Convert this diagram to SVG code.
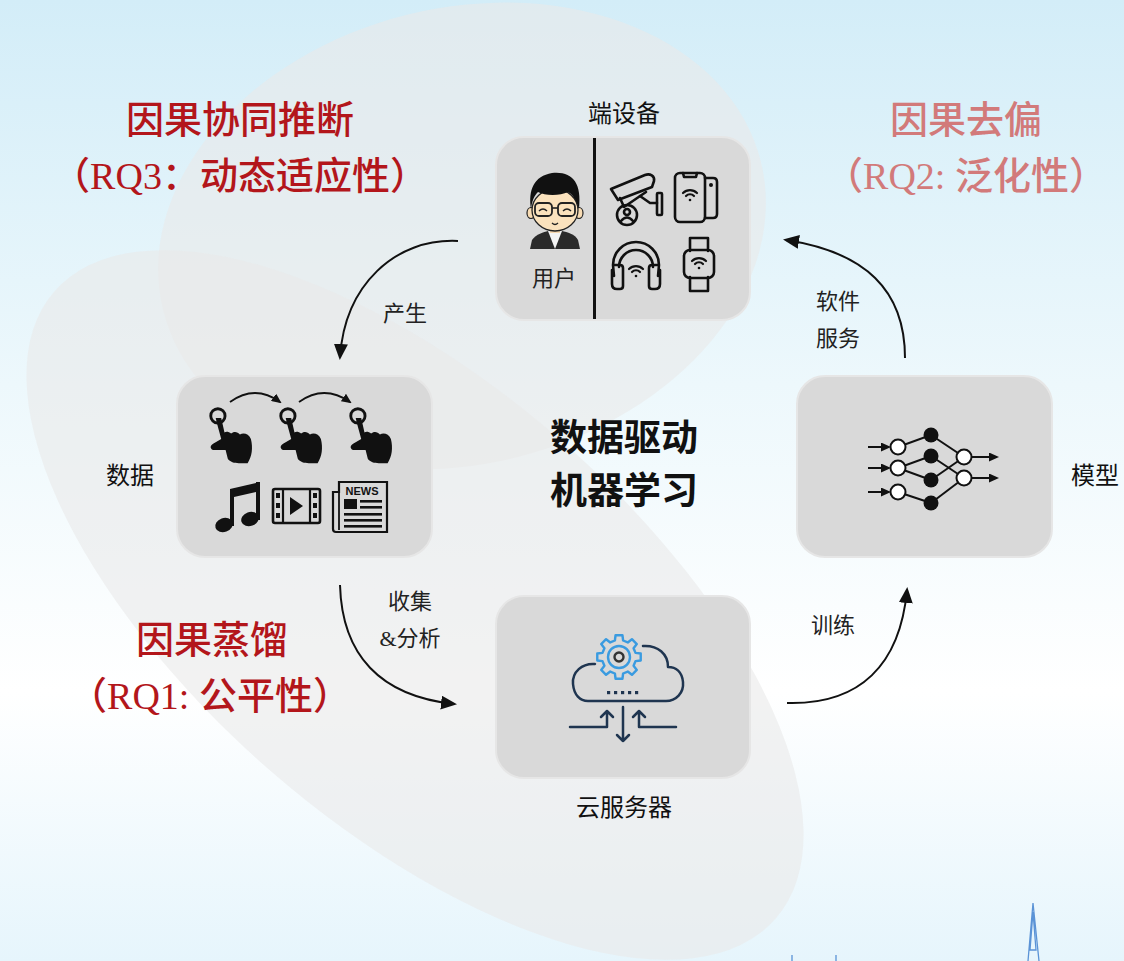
<svg xmlns="http://www.w3.org/2000/svg" width="1124" height="961" viewBox="0 0 1124 961">
  <defs>
    <linearGradient id="bg" x1="0" y1="0" x2="0" y2="1">
      <stop offset="0" stop-color="#d3edf8"/>
      <stop offset="0.4" stop-color="#edf8fc"/>
      <stop offset="0.72" stop-color="#ffffff"/>
      <stop offset="1" stop-color="#e6f5fc"/>
    </linearGradient>
    <marker id="arr" markerUnits="userSpaceOnUse" markerWidth="16" markerHeight="14" refX="13" refY="7" orient="auto">
      <path d="M0,0 L16,7 L0,14 Z" fill="#111"/>
    </marker>
    <marker id="arrS" markerUnits="userSpaceOnUse" markerWidth="10" markerHeight="9" refX="8" refY="4.5" orient="auto">
      <path d="M0,0 L10,4.5 L0,9 Z" fill="#111"/>
    </marker>
    <!-- wifi glyph, centred on its dot -->
    <g id="wifi" fill="none" stroke="#111" stroke-width="2.2" stroke-linecap="round">
      <path d="M-7,-3 A10,10 0 0 1 7,-3"/>
      <path d="M-4,0 A5.5,5.5 0 0 1 4,0"/>
      <circle cx="0" cy="4" r="1.3" fill="#111" stroke="none"/>
    </g>
    <!-- tapping hand, origin at fingertip ring -->
    <g id="hand">
      <circle cx="-1" cy="-1" r="6.5" fill="none" stroke="#111" stroke-width="2.6"/>
      <path d="M-3,1 C-2,6 0,12 2,20 L-5,24 C-9,26 -8,30 -4,30 L6,30 L8,38 C10,41 14,42 18,42 L26,42 C30,36 31,28 29,20 C27,15 22,14 19,16 C17,13 13,13 11,15 C9,13 6,13 5,14 L2,1 Z" fill="#111"/>
    </g>
    <style>
      .box { fill: #d9d9d9; stroke: #e6e6e6; stroke-width: 2; }
      .lbl { font-family: "Liberation Serif", "Noto Sans CJK SC", serif; font-size: 24px; fill: #111; text-anchor: middle; }
      .lbl2 { font-family: "Liberation Serif", "Noto Sans CJK SC", serif; font-size: 22px; fill: #222; text-anchor: middle; }
      .title { font-family: "Liberation Serif", "Noto Sans CJK SC", serif; font-size: 38px; text-anchor: middle; font-weight: 500; }
      .dark { fill: #b3161b; }
      .pale { fill: #d27a7a; }
      .center { font-family: "Noto Sans CJK SC", sans-serif; font-size: 37px; font-weight: bold; fill: #111; text-anchor: middle; }
      .conn { fill: none; stroke: #111; stroke-width: 2; }
      .ic { fill: none; stroke: #111; stroke-width: 2.6; stroke-linejoin: round; stroke-linecap: round; }
    </style>
  </defs>

  <!-- backdrop -->
  <rect width="1124" height="961" fill="url(#bg)"/>
  <g id="backdrop-shapes">
    <ellipse cx="462" cy="236" rx="308" ry="228" transform="rotate(-14 462 236)" fill="#e9e9e9" fill-opacity="0.6"/>
    <ellipse cx="415" cy="605" rx="478" ry="220" transform="rotate(41 415 605)" fill="#e9e9e9" fill-opacity="0.6"/>
    <!-- skyline spire -->
    <path d="M1033,903 L1028,961 M1033,903 L1039,961 M1033,912 L1030,950 L1036,950 Z" fill="none" stroke="#5b93d6" stroke-width="1.3"/>
    <path d="M792,955 L792,961 M836,955 L836,961" stroke="#5b93d6" stroke-width="1.3"/>
  </g>

  <!-- titles -->
  <g id="titles">
    <text class="title dark" x="240" y="133">因果协同推断</text>
    <text class="title dark" x="240" y="189" font-size="35">（RQ3：动态适应性）</text>
    <text class="title pale" x="966" y="133">因果去偏</text>
    <text class="title pale" x="966" y="189" font-size="35">（RQ2: 泛化性）</text>
    <text class="title dark" x="212" y="653">因果蒸馏</text>
    <text class="title dark" x="210" y="709" font-size="35">（RQ1: 公平性）</text>
    <text class="center" x="624" y="451">数据驱动</text>
    <text class="center" x="624" y="504">机器学习</text>
  </g>

  <!-- connectors -->
  <g id="connectors">
    <path class="conn" d="M458,241 C395,238 345,285 340,357" marker-end="url(#arr)"/>
    <path class="conn" d="M340,585 C342,655 380,696 454,704" marker-end="url(#arr)"/>
    <path class="conn" d="M787,703 C860,705 900,665 907,590" marker-end="url(#arr)"/>
    <path class="conn" d="M905,358 C905,290 865,252 786,240" marker-end="url(#arr)"/>
    <text class="lbl2" x="405" y="321">产生</text>
    <text class="lbl2" x="410" y="609">收集</text>
    <text class="lbl2" x="410" y="646">&amp;分析</text>
    <text class="lbl2" x="833" y="633">训练</text>
    <text class="lbl2" x="838" y="309">软件</text>
    <text class="lbl2" x="838" y="346">服务</text>
  </g>

  <!-- end devices -->
  <g id="node-devices">
    <text class="lbl" x="624" y="122">端设备</text>
    <rect class="box" x="496" y="137" width="254" height="183" rx="28"/>
    <line x1="594.5" y1="138" x2="594.5" y2="319" stroke="#111" stroke-width="3"/>
    <!-- user avatar -->
    <g id="avatar">
      <path d="M530,249 L532,240 C536,234 544,232 548,231 L562,231 C567,232 575,234 578,240 L580,249 Z" fill="#2a2a2a"/>
      <path d="M548,231 L555,249 L562,231 Z" fill="#f4f4f4"/>
      <rect x="550" y="226" width="10" height="7" fill="#f6d8b0"/>
      <ellipse cx="531" cy="213" rx="4" ry="5.5" fill="#f8dcb4" stroke="#222" stroke-width="1.2"/>
      <ellipse cx="579" cy="213" rx="4" ry="5.5" fill="#f8dcb4" stroke="#222" stroke-width="1.2"/>
      <ellipse cx="555" cy="210" rx="23" ry="21" fill="#fbe2bd" stroke="#222" stroke-width="1.3"/>
      <path d="M531,209 C528,190 534,176 552,173 C572,171 582,182 579,209 C576,199 572,194 568,192 C560,196 545,196 538,192 C534,196 532,201 531,209 Z" fill="#111"/>
      <rect x="535" y="203" width="17" height="13" rx="4" fill="none" stroke="#222" stroke-width="1.8"/>
      <rect x="558" y="203" width="17" height="13" rx="4" fill="none" stroke="#222" stroke-width="1.8"/>
      <line x1="552" y1="208" x2="558" y2="208" stroke="#222" stroke-width="1.6"/>
      <path d="M539,211 Q543,207 547,211 M563,211 Q567,207 571,211" fill="none" stroke="#222" stroke-width="1.4"/>
      <path d="M552,223 Q555,226 558,223" fill="none" stroke="#222" stroke-width="1.3"/>
    </g>
    <text class="lbl2" x="554" y="286">用户</text>
    <!-- cctv camera -->
    <g id="cam" class="ic">
      <path d="M611,189 L645,175 C650,173 655,176 654,181 L652,187 L618,200 Z"/>
      <path d="M620,198 L624,207 L646,192"/>
      <path d="M640,196 L650,203 L657,203"/>
      <rect x="657" y="193" width="5" height="22" rx="1"/>
      <circle cx="627" cy="215" r="10"/>
      <circle cx="627" cy="212" r="3"/>
      <path d="M621,221 Q627,214 633,221"/>
    </g>
    <!-- phone -->
    <g id="phone" class="ic">
      <rect x="675" y="173" width="30" height="49" rx="5"/>
      <path d="M683,173 L684,177 L696,177 L697,173"/>
      <path d="M705,178 L713,178 Q717,178 717,182 L717,214 Q717,218 713,218 L705,218"/>
      <circle cx="711" cy="185" r="2" fill="#111" stroke="none"/>
      <use href="#wifi" x="690" y="196"/>
    </g>
    <!-- headphones -->
    <g id="headphones" class="ic">
      <path d="M614,276 L613,265 A23,23 0 0 1 659,265 L658,276"/>
      <path d="M619,267 A17,17 0 0 1 653,267"/>
      <path d="M614,265 L620,265 Q623,265 623,268 L623,286 Q623,289 620,289 L617,289 Q612,289 612,284 L612,270"/>
      <path d="M658,265 L652,265 Q649,265 649,268 L649,286 Q649,289 652,289 L655,289 Q660,289 660,284 L660,270"/>
      <use href="#wifi" x="636" y="272"/>
    </g>
    <!-- smart watch -->
    <g id="watch" class="ic">
      <path d="M690,251 L690,238 L708,238 L708,251"/>
      <path d="M690,277 L690,291 L708,291 L708,277"/>
      <rect x="684" y="250" width="30" height="28" rx="6"/>
      <use href="#wifi" x="699" y="264"/>
    </g>
  </g>

  <!-- data -->
  <g id="node-data">
    <rect class="box" x="177" y="376" width="255" height="181" rx="28"/>
    <text class="lbl" x="130" y="484">数据</text>
    <use href="#hand" transform="translate(219 417) scale(1.1)"/>
    <use href="#hand" transform="translate(289 417) scale(1.1)"/>
    <use href="#hand" transform="translate(359 417) scale(1.1)"/>
    <path d="M230,402 Q255,384 280,402" fill="none" stroke="#111" stroke-width="1.8" marker-end="url(#arrS)"/>
    <path d="M299,402 Q324,384 350,402" fill="none" stroke="#111" stroke-width="1.8" marker-end="url(#arrS)"/>
    <!-- music note -->
    <g id="note" fill="#111">
      <path d="M230,489 L260,482 L260,491 L234,497 Z"/>
      <rect x="230" y="489" width="4" height="37"/>
      <rect x="256" y="482" width="4" height="38"/>
      <ellipse cx="224" cy="525" rx="9" ry="7" transform="rotate(-20 224 525)"/>
      <ellipse cx="250" cy="519" rx="9" ry="7" transform="rotate(-20 250 519)"/>
    </g>
    <!-- film strip -->
    <g id="film">
      <rect x="273" y="489" width="47" height="34" rx="2" fill="none" stroke="#111" stroke-width="2.6"/>
      <line x1="283" y1="489" x2="283" y2="523" stroke="#111" stroke-width="2.2"/>
      <line x1="310" y1="489" x2="310" y2="523" stroke="#111" stroke-width="2.2"/>
      <g fill="#111">
        <rect x="276" y="493" width="4" height="5"/><rect x="276" y="503" width="4" height="5"/><rect x="276" y="513" width="4" height="5"/>
        <rect x="313" y="493" width="4" height="5"/><rect x="313" y="503" width="4" height="5"/><rect x="313" y="513" width="4" height="5"/>
        <path d="M290,497 L303,506 L290,515 Z"/>
      </g>
    </g>
    <!-- newspaper -->
    <g id="news">
      <path d="M339,492 L333,492 L333,529 Q333,532 336,532 L387,532 L387,482 L339,482 Z" fill="none" stroke="#111" stroke-width="2.2"/>
      <line x1="339" y1="482" x2="339" y2="530" stroke="#111" stroke-width="1.8"/>
      <text x="362" y="495" font-family="Liberation Sans, sans-serif" font-size="11" font-weight="bold" fill="#111" text-anchor="middle">NEWS</text>
      <g fill="#111">
        <rect x="344" y="499" width="13" height="10"/>
        <rect x="360" y="500" width="22" height="2.6"/>
        <rect x="360" y="506" width="22" height="2.6"/>
        <rect x="344" y="513" width="38" height="2.6"/>
        <rect x="344" y="519" width="38" height="2.6"/>
        <rect x="344" y="525" width="38" height="2.6"/>
      </g>
    </g>
  </g>

  <!-- cloud server -->
  <g id="node-cloud">
    <rect class="box" x="496" y="596" width="254" height="182" rx="28"/>
    <text class="lbl" x="624" y="816">云服务器</text>
    <g transform="translate(619 657)" fill="none" stroke="#3a9be0" stroke-width="2.4" stroke-linejoin="round">
      <polygon points="16.5,-4.11 21.73,-3.44 21.73,3.44 16.5,4.11 14.57,8.76 17.8,12.93 12.93,17.8 8.76,14.57 4.11,16.5 3.44,21.73 -3.44,21.73 -4.11,16.5 -8.76,14.57 -12.93,17.8 -17.8,12.93 -14.57,8.76 -16.5,4.11 -21.73,3.44 -21.73,-3.44 -16.5,-4.11 -14.57,-8.76 -17.8,-12.93 -12.93,-17.8 -8.76,-14.57 -4.11,-16.5 -3.44,-21.73 3.44,-21.73 4.11,-16.5 8.76,-14.57 12.93,-17.8 17.8,-12.93 14.57,-8.76"/>
      <circle r="11"/>
      <circle r="4.5" stroke="#333" stroke-width="2.4"/>
    </g>
    <g fill="none" stroke="#1f3550" stroke-width="2.5" stroke-linecap="round" stroke-linejoin="round">
      <path d="M595,664 C582,663 572,672 573,684 C574,695 580,701 588,701 L666,701 C676,701 684,693 683,682 C682,672 676,667 668,667 C668,654 658,645 643,646"/>
      <path d="M570,727 L607,727 L607,711 M601,717 L607,711 L613,717"/>
      <path d="M676,727 L639,727 L639,711 M633,717 L639,711 L645,717"/>
      <path d="M623,707 L623,741 M617,735 L623,741 L629,735"/>
    </g>
    <g fill="#1f3550">
      <rect x="607" y="691" width="3.2" height="3.2"/><rect x="614" y="691" width="3.2" height="3.2"/><rect x="621" y="691" width="3.2" height="3.2"/><rect x="628" y="691" width="3.2" height="3.2"/><rect x="635" y="691" width="3.2" height="3.2"/>
    </g>
  </g>

  <!-- model -->
  <g id="node-model">
    <rect class="box" x="797" y="376" width="255" height="181" rx="28"/>
    <text class="lbl" x="1095" y="484">模型</text>
    <g stroke="#111" stroke-width="2">
      <line x1="898" y1="447" x2="931" y2="435"/>
      <line x1="898" y1="468" x2="931" y2="456"/>
      <line x1="898" y1="468" x2="931" y2="480"/>
      <line x1="898" y1="492" x2="931" y2="503"/>
      <line x1="931" y1="435" x2="964" y2="457"/>
      <line x1="931" y1="456" x2="964" y2="478"/>
      <line x1="931" y1="480" x2="964" y2="457"/>
      <line x1="931" y1="503" x2="964" y2="478"/>
      <line x1="868" y1="447" x2="889" y2="447" marker-end="url(#arrS)"/>
      <line x1="868" y1="468" x2="889" y2="468" marker-end="url(#arrS)"/>
      <line x1="868" y1="492" x2="889" y2="492" marker-end="url(#arrS)"/>
      <line x1="972" y1="457" x2="997" y2="457" marker-end="url(#arrS)"/>
      <line x1="972" y1="478" x2="997" y2="478" marker-end="url(#arrS)"/>
    </g>
    <g fill="#fff" stroke="#111" stroke-width="2">
      <circle cx="898" cy="447" r="7.5"/><circle cx="898" cy="468" r="7.5"/><circle cx="898" cy="492" r="7.5"/>
      <circle cx="964" cy="457" r="7.5"/><circle cx="964" cy="478" r="7.5"/>
    </g>
    <g fill="#111">
      <circle cx="931" cy="435" r="7.5"/><circle cx="931" cy="456" r="7.5"/><circle cx="931" cy="480" r="7.5"/><circle cx="931" cy="503" r="7.5"/>
    </g>
  </g>
</svg>
